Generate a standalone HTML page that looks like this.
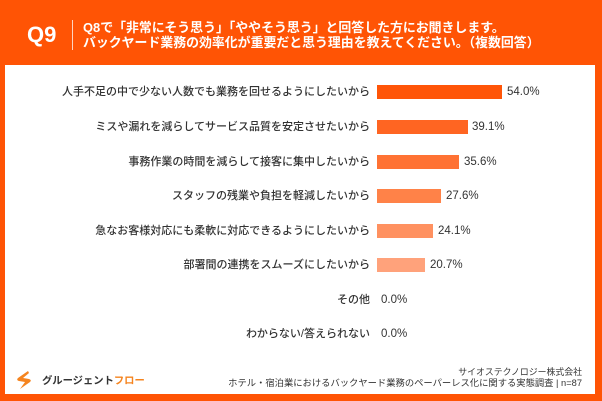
<!DOCTYPE html>
<html lang="ja">
<head>
<meta charset="utf-8">
<style>
  html, body { margin:0; padding:0; }
  body { width:602px; height:401px; background:#FF5405; position:relative; overflow:hidden;
         font-family:"Liberation Sans","Noto Sans CJK JP",sans-serif; }
  .panel { position:absolute; left:5px; top:65px; width:590px; height:329px; background:#fff; }
  .q { position:absolute; left:27px; top:22px; color:#fff; font-weight:bold; font-size:22px; line-height:26px; font-family:"Liberation Sans",sans-serif; }
  .vline { position:absolute; left:72px; top:20px; width:1px; height:30px; background:rgba(255,255,255,0.75); }
  .ht { position:absolute; left:83px; top:20px; color:#fff; font-weight:bold; font-size:12.9px; line-height:15px; white-space:nowrap; letter-spacing:0; }
  .row { position:absolute; left:0; width:602px; height:20px; }
  .lab { position:absolute; right:232px; top:0; height:20px; line-height:20px; font-size:11px; color:#333; white-space:nowrap; font-weight:500; }
  .bar { position:absolute; left:377px; top:3px; height:14px; }
  .pct { position:absolute; top:0; height:20px; line-height:20px; font-size:11.5px; color:#333; white-space:nowrap; font-family:"Liberation Sans",sans-serif; }
  .fr { position:absolute; right:20px; top:367px; text-align:right; font-size:8.9px; line-height:10.5px; color:#333; white-space:nowrap; }
  .fr .l2 { font-size:9.3px; }
  .logo { position:absolute; left:15px; top:370px; }
  .lt { position:absolute; left:42px; top:375px; font-size:10.3px; line-height:14px; font-weight:bold; color:#333; white-space:nowrap; }
  .lt span { color:#F5841F; }
</style>
</head>
<body>
  <div class="q">Q9</div>
  <div class="vline"></div>
  <div class="ht">Q8で「非常にそう思う」「ややそう思う」と回答した方にお聞きします。<br>バックヤード業務の効率化が重要だと思う理由を教えてください。（複数回答）</div>

  <div class="panel"></div>

  <div class="row" style="top:82px">
    <div class="lab">人手不足の中で少ない人数でも業務を回せるようにしたいから</div>
    <div class="bar" style="width:125px;background:#FF5508"></div>
    <div class="pct" style="left:507px">54.0%</div>
  </div>
  <div class="row" style="top:117px">
    <div class="lab">ミスや漏れを減らしてサービス品質を安定させたいから</div>
    <div class="bar" style="width:90.5px;background:#FF6522"></div>
    <div class="pct" style="left:472px">39.1%</div>
  </div>
  <div class="row" style="top:151.5px">
    <div class="lab">事務作業の時間を減らして接客に集中したいから</div>
    <div class="bar" style="width:82px;background:#FF7233"></div>
    <div class="pct" style="left:464px">35.6%</div>
  </div>
  <div class="row" style="top:186px">
    <div class="lab">スタッフの残業や負担を軽減したいから</div>
    <div class="bar" style="width:64px;background:#FF8248"></div>
    <div class="pct" style="left:446px">27.6%</div>
  </div>
  <div class="row" style="top:220.5px">
    <div class="lab">急なお客様対応にも柔軟に対応できるようにしたいから</div>
    <div class="bar" style="width:56px;background:#FF9160"></div>
    <div class="pct" style="left:438px">24.1%</div>
  </div>
  <div class="row" style="top:255px">
    <div class="lab">部署間の連携をスムーズにしたいから</div>
    <div class="bar" style="width:48px;background:#FFA27B"></div>
    <div class="pct" style="left:430px">20.7%</div>
  </div>
  <div class="row" style="top:289.5px">
    <div class="lab">その他</div>
    <div class="pct" style="left:381px">0.0%</div>
  </div>
  <div class="row" style="top:324px">
    <div class="lab">わからない/答えられない</div>
    <div class="pct" style="left:381px">0.0%</div>
  </div>

  <svg class="logo" width="18" height="20" viewBox="0 0 18 20">
    <path d="M13 1 L3 8 Q1 10 4 11 L10 12 L5 19 L15 12 Q17 10 14 9 L8 8 L14 3 Z" fill="#F5841F"/>
  </svg>
  <div class="lt">グルージェント<span>フロー</span></div>

  <div class="fr">サイオステクノロジー株式会社<br><span class="l2">ホテル・宿泊業におけるバックヤード業務のペーパーレス化に関する実態調査 | n=87</span></div>
</body>
</html>
